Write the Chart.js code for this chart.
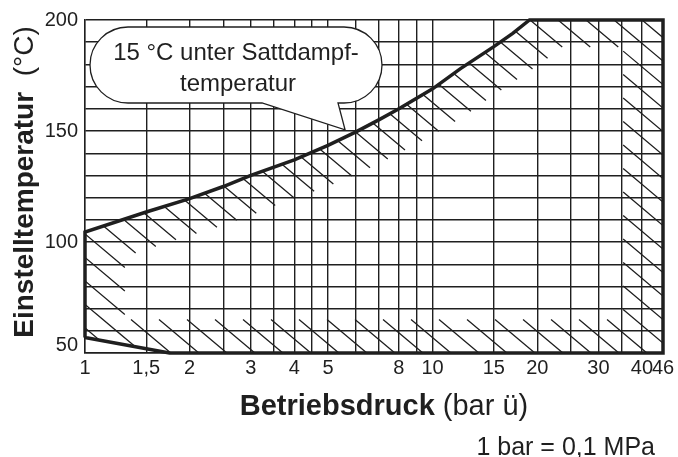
<!DOCTYPE html>
<html>
<head>
<meta charset="utf-8">
<script src="https://cdn.jsdelivr.net/npm/chart.js@4/dist/chart.umd.min.js"></script>
<style>
  html, body { margin: 0; padding: 0; background: #fff; }
  #wrap { width: 678px; height: 457px; position: relative; }
</style>
</head>
<body>
<div id="wrap"><canvas id="chart"></canvas></div>
<script>
// Betriebsdruck (bar ü) on a log axis vs. Einstelltemperatur (°C)
const pressure = [1, 1.5, 2, 2.5, 3, 4, 5, 6, 7, 8, 10, 12, 15, 17, 19];
const setTemp = [104.5, 113.5, 119.5, 125, 130, 137, 143.5, 149.5, 155, 160, 169, 178, 188, 194, 200];

// lower limit in the bottom left corner
const lowPressure = [1.75, 1];
const lowTemp = [50, 57];

const maxPressure = 46;
const minTemp = 50;
const maxTemp = 200;

const xGridValues = [1, 1.5, 2, 2.5, 3, 3.5, 4, 4.5, 5, 6, 7, 8, 9, 10, 15, 20, 25, 30, 35, 40, 46];
const xTickLabels = [1, 1.5, 2, 3, 4, 5, 8, 10, 15, 20, 30, 40, 46];
const yGridValues = [50, 60, 70, 80, 90, 100, 110, 120, 130, 140, 150, 160, 170, 180, 190, 200];
const yTickLabels = [50, 100, 150, 200];

// where the callout tail points to (bar, °C)
const calloutTip = [5.6, 150.5];

const FONT = "'Liberation Sans', Arial, Helvetica, sans-serif";
const INK = '#1f1f1f';

// closed outline of the allowed range
const outline = [{ x: lowPressure[1], y: lowTemp[1] }];
pressure.forEach((p, i) => outline.push({ x: p, y: setTemp[i] }));
outline.push({ x: maxPressure, y: maxTemp });
outline.push({ x: maxPressure, y: minTemp });
lowPressure.forEach((p, i) => outline.push({ x: p, y: lowTemp[i] }));

// short "\" strokes inside the outline, along every edge
const hatchPlugin = {
  id: 'hatch',
  beforeDatasetsDraw(chart) {
    const pts = chart.getDatasetMeta(0).data.map(p => ({ x: p.x, y: p.y }));
    const ctx = chart.ctx;
    const ang = 40 * Math.PI / 180;
    const h = { x: Math.cos(ang), y: Math.sin(ang) };
    const m = { x: -h.y, y: h.x };
    const gap = 18, phase = 16.6;

    ctx.save();
    ctx.beginPath();
    pts.forEach((p, i) => (i ? ctx.lineTo(p.x, p.y) : ctx.moveTo(p.x, p.y)));
    ctx.closePath();
    ctx.clip();

    ctx.beginPath();
    for (let i = 0; i < pts.length - 1; i++) {
      const a = pts[i], b = pts[i + 1];
      const dx = b.x - a.x, dy = b.y - a.y;
      const len = Math.hypot(dx, dy);
      if (len < 1) continue;
      const inward = (-dy * h.x + dx * h.y) / len > 0;
      const L = inward && Math.abs(dx) >= 1 ? 42 : 52;
      const ca = a.x * m.x + a.y * m.y, cb = b.x * m.x + b.y * m.y;
      if (Math.abs(cb - ca) < 0.5) continue;
      const lo = Math.min(ca, cb), hi = Math.max(ca, cb);
      for (let k = Math.ceil((lo - phase) / gap); phase + k * gap < hi; k++) {
        const t = (phase + k * gap - ca) / (cb - ca);
        const px = a.x + t * dx, py = a.y + t * dy;
        if (inward) {
          ctx.moveTo(px, py);
          ctx.lineTo(px + L * h.x, py + L * h.y);
        } else {
          ctx.moveTo(px - L * h.x, py - L * h.y);
          ctx.lineTo(px, py);
        }
      }
    }
    ctx.lineWidth = 1.3;
    ctx.strokeStyle = INK;
    ctx.stroke();
    ctx.restore();
  }
};

// speech bubble "15 °C unter Sattdampftemperatur"
const calloutPlugin = {
  id: 'callout',
  afterDatasetsDraw(chart) {
    const ctx = chart.ctx;
    const x0 = 90, x1 = 382, y0 = 27, y1 = 103;
    const r = (y1 - y0) / 2, yc = (y0 + y1) / 2;
    const tipX = chart.scales.x.getPixelForValue(calloutTip[0]);
    const tipY = chart.scales.y.getPixelForValue(calloutTip[1]);

    ctx.save();
    ctx.beginPath();
    ctx.moveTo(x0 + r, y0);
    ctx.lineTo(x1 - r, y0);
    ctx.arc(x1 - r, yc, r, -Math.PI / 2, Math.PI / 2);
    ctx.lineTo(338, y1);
    ctx.lineTo(tipX, tipY);
    ctx.lineTo(262, y1);
    ctx.lineTo(x0 + r, y1);
    ctx.arc(x0 + r, yc, r, Math.PI / 2, Math.PI * 1.5);
    ctx.closePath();
    ctx.fillStyle = '#fff';
    ctx.fill();
    ctx.lineWidth = 1.3;
    ctx.strokeStyle = INK;
    ctx.stroke();

    ctx.fillStyle = INK;
    ctx.font = '24px ' + FONT;
    ctx.textAlign = 'center';
    ctx.textBaseline = 'alphabetic';
    ctx.fillText('15 °C unter Sattdampf-', (x0 + x1) / 2, 60);
    ctx.fillText('temperatur', (x0 + x1) / 2 + 2, 90.5);
    ctx.restore();
  }
};

// axis titles with a bold and a plain part
function drawMixed(ctx, parts, cx, y) {
  let total = 0;
  parts.forEach(p => { ctx.font = p.font; p.w = ctx.measureText(p.text).width; total += p.w; });
  let x = cx - total / 2;
  parts.forEach(p => { ctx.font = p.font; ctx.fillText(p.text, x, y); x += p.w; });
}

const titlePlugin = {
  id: 'titles',
  afterDraw(chart) {
    const ctx = chart.ctx;
    ctx.save();
    ctx.fillStyle = INK;
    ctx.textAlign = 'left';
    ctx.textBaseline = 'alphabetic';
    drawMixed(ctx, [
      { text: 'Betriebsdruck', font: 'bold 29px ' + FONT },
      { text: ' (bar ü)', font: '29px ' + FONT }
    ], 384, 415);

    ctx.translate(33, 182);
    ctx.rotate(-Math.PI / 2);
    drawMixed(ctx, [
      { text: 'Einstelltemperatur', font: 'bold 28px ' + FONT },
      { text: '  (°C)', font: '28px ' + FONT }
    ], 0, 0);
    ctx.restore();

    ctx.save();
    ctx.fillStyle = INK;
    ctx.font = '25px ' + FONT;
    ctx.textAlign = 'right';
    ctx.fillText('1 bar = 0,1 MPa', 655, 455);
    ctx.restore();
  }
};

const gridStyle = { color: INK, lineWidth: 1.4, drawTicks: false };

new Chart(document.getElementById('chart'), {
  type: 'scatter',
  data: {
    datasets: [{
      data: outline,
      showLine: true,
      borderColor: INK,
      borderWidth: 3.5,
      borderJoinStyle: 'miter',
      pointRadius: 0,
      fill: false,
      clip: 4
    }]
  },
  options: {
    responsive: true,
    maintainAspectRatio: false,
    animation: false,
    layout: { padding: { top: 20, right: 15, left: 0, bottom: 0 } },
    plugins: { legend: { display: false }, tooltip: { enabled: false } },
    scales: {
      x: {
        type: 'logarithmic',
        min: 1,
        max: maxPressure,
        grid: gridStyle,
        border: { display: true, color: INK, width: 1.4 },
        afterBuildTicks: (scale) => { scale.ticks = xGridValues.map(v => ({ value: v })); },
        afterFit: (scale) => { scale.height = 104; },
        ticks: {
          autoSkip: false,
          maxRotation: 0,
          padding: 3,
          color: INK,
          font: { family: FONT, size: 20 },
          callback: (v) => (xTickLabels.includes(v) ? String(v).replace('.', ',') : '')
        }
      },
      y: {
        min: minTemp,
        max: maxTemp,
        grid: gridStyle,
        border: { display: true, color: INK, width: 1.4 },
        afterBuildTicks: (scale) => { scale.ticks = yGridValues.map(v => ({ value: v })); },
        afterFit: (scale) => { scale.width = 85; },
        ticks: {
          autoSkip: false,
          padding: 7,
          color: INK,
          font: { family: FONT, size: 20, lineHeight: 0.8 },
          // lowest label sits a bit higher, clear of the x labels
          callback: (v) => (v === yTickLabels[0] ? [String(v), ''] : (yTickLabels.includes(v) ? String(v) : ''))
        }
      }
    }
  },
  plugins: [hatchPlugin, calloutPlugin, titlePlugin]
});
</script>
</body>
</html>
